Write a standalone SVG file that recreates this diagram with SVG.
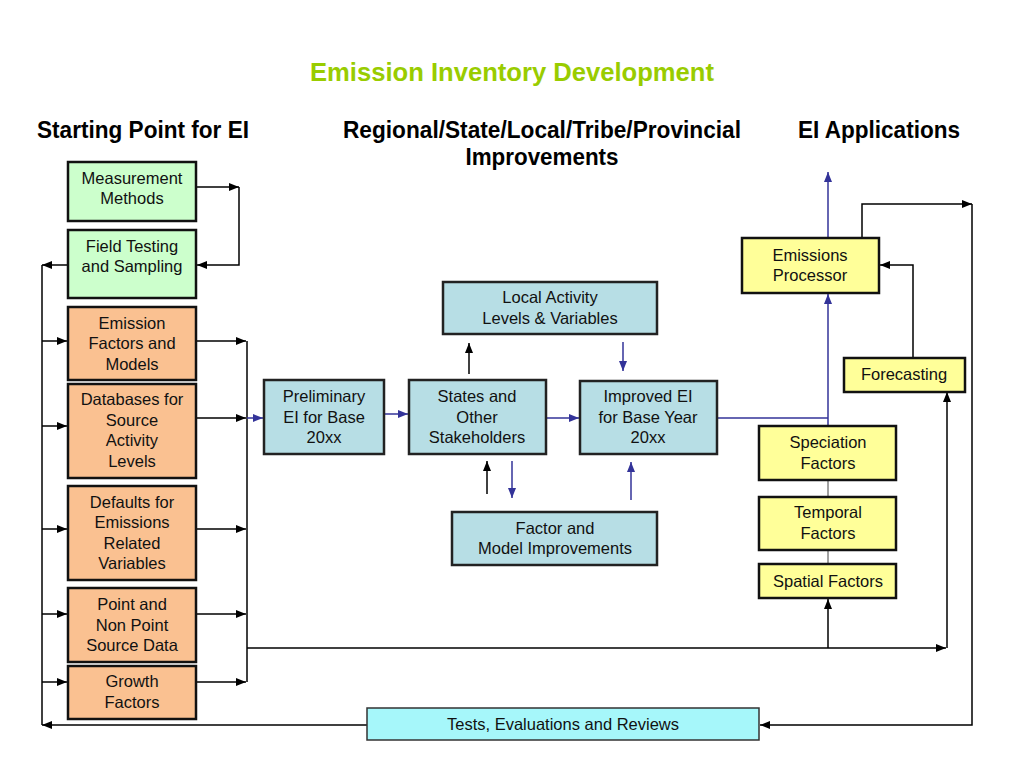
<svg xmlns="http://www.w3.org/2000/svg" width="1024" height="768" viewBox="0 0 1024 768">
<defs>
<marker id="ab" markerWidth="10" markerHeight="8" refX="10" refY="4" orient="auto" markerUnits="userSpaceOnUse"><path d="M0,0 L10,4 L0,8 Z" fill="#000"/></marker>
<marker id="au" markerWidth="10" markerHeight="8" refX="10" refY="4" orient="auto" markerUnits="userSpaceOnUse"><path d="M0,0 L10,4 L0,8 Z" fill="#333399"/></marker>
<style>
.t{font-family:"Liberation Sans",Arial,sans-serif;font-size:16.5px;fill:#111;text-anchor:middle}
.h{font-family:"Liberation Sans",Arial,sans-serif;font-weight:bold;font-size:23px;fill:#000;text-anchor:middle}
.g{fill:#ccffcc;stroke:#111;stroke-width:2.5}
.o{fill:#fac191;stroke:#111;stroke-width:2.5}
.b{fill:#b7dee5;stroke:#222;stroke-width:2.5}
.y{fill:#ffff99;stroke:#111;stroke-width:2.5}
.c{fill:#a6f7fa;stroke:#333;stroke-width:1.5}
.k{fill:none;stroke:#000;stroke-width:1.5}
.u{fill:none;stroke:#333399;stroke-width:1.5}
.n{fill:none;stroke:#444;stroke-width:1}
</style>
</defs>
<rect width="1024" height="768" fill="#fff"/>
<text x="512" y="81" class="h" style="fill:#99cc00;font-size:25px" textLength="404" lengthAdjust="spacingAndGlyphs">Emission Inventory Development</text>
<text x="143" y="138" class="h" textLength="212" lengthAdjust="spacingAndGlyphs">Starting Point for EI</text>
<text x="542" y="138" class="h" textLength="398" lengthAdjust="spacingAndGlyphs">Regional/State/Local/Tribe/Provincial</text>
<text x="542" y="165" class="h" textLength="153" lengthAdjust="spacingAndGlyphs">Improvements</text>
<text x="879" y="138" class="h" textLength="162" lengthAdjust="spacingAndGlyphs">EI Applications</text>

<g id="connectors">
<path class="k" d="M196,187 H239" marker-end="url(#ab)"/>
<path class="k" d="M239,187 V265 H197" marker-end="url(#ab)"/>
<path class="k" d="M68,265 H42" marker-end="url(#ab)"/>
<path class="k" d="M42,265 V725"/>
<path class="k" d="M42,341 H67" marker-end="url(#ab)"/>
<path class="k" d="M42,426 H67" marker-end="url(#ab)"/>
<path class="k" d="M42,529 H67" marker-end="url(#ab)"/>
<path class="k" d="M42,614 H67" marker-end="url(#ab)"/>
<path class="k" d="M42,682 H67" marker-end="url(#ab)"/>
<path class="k" d="M196,341 H246" marker-end="url(#ab)"/>
<path class="k" d="M196,418 H246" marker-end="url(#ab)"/>
<path class="k" d="M196,529 H246" marker-end="url(#ab)"/>
<path class="k" d="M196,614 H246" marker-end="url(#ab)"/>
<path class="k" d="M196,682 H246" marker-end="url(#ab)"/>
<path class="k" d="M247,341 V682"/>
<path class="u" d="M247,418 H263" marker-end="url(#au)"/>
<path class="k" d="M247,648 H946" marker-end="url(#ab)"/>
<path class="k" d="M947,648 V392" marker-end="url(#ab)"/>
<path class="k" d="M828,648 V599" marker-end="url(#ab)"/>
<path class="u" d="M384,414 H408" marker-end="url(#au)"/>
<path class="u" d="M546,418 H579" marker-end="url(#au)"/>
<path class="k" d="M469,374 V343" marker-end="url(#ab)"/>
<path class="u" d="M623,342 V371" marker-end="url(#au)"/>
<path class="k" d="M487,494 V461" marker-end="url(#ab)"/>
<path class="u" d="M512,461 V498" marker-end="url(#au)"/>
<path class="u" d="M631,500 V462" marker-end="url(#au)"/>
<path class="u" d="M717,418 H828"/>
<path class="u" d="M828,426 V294" marker-end="url(#au)"/>
<path class="u" d="M828,238 V172" marker-end="url(#au)"/>
<path class="k" d="M862,238 V204 H972" marker-end="url(#ab)"/>
<path class="k" d="M972,204 V725 H760" marker-end="url(#ab)"/>
<path class="k" d="M367,725 H42" marker-end="url(#ab)"/>
<path class="k" d="M913,358 V265 H880" marker-end="url(#ab)"/>
<path class="n" d="M828,480 V497 M828,550 V564"/>
</g>

<g id="measurement"><rect class="g" x="68" y="162" width="128" height="59"/><text class="t" x="132" y="184">Measurement</text><text class="t" x="132" y="204">Methods</text></g>
<g id="field"><rect class="g" x="68" y="230" width="128" height="68"/><text class="t" x="132" y="252">Field Testing</text><text class="t" x="132" y="272">and Sampling</text></g>
<g id="efactors"><rect class="o" x="68" y="307" width="128" height="73"/><text class="t" x="132" y="329">Emission</text><text class="t" x="132" y="349">Factors and</text><text class="t" x="132" y="370">Models</text></g>
<g id="databases"><rect class="o" x="68" y="384" width="128" height="94"/><text class="t" x="132" y="405">Databases for</text><text class="t" x="132" y="426">Source</text><text class="t" x="132" y="446">Activity</text><text class="t" x="132" y="467">Levels</text></g>
<g id="defaults"><rect class="o" x="68" y="486" width="128" height="94"/><text class="t" x="132" y="508">Defaults for</text><text class="t" x="132" y="528">Emissions</text><text class="t" x="132" y="549">Related</text><text class="t" x="132" y="569">Variables</text></g>
<g id="point"><rect class="o" x="68" y="588" width="128" height="74"/><text class="t" x="132" y="610">Point and</text><text class="t" x="132" y="631">Non Point</text><text class="t" x="132" y="651">Source Data</text></g>
<g id="growth"><rect class="o" x="68" y="666" width="128" height="53"/><text class="t" x="132" y="687">Growth</text><text class="t" x="132" y="708">Factors</text></g>

<g id="local"><rect class="b" x="443" y="282" width="214" height="52"/><text class="t" x="550" y="303">Local Activity</text><text class="t" x="550" y="324">Levels &amp; Variables</text></g>
<g id="prelim"><rect class="b" x="264" y="380" width="120" height="74"/><text class="t" x="324" y="402">Preliminary</text><text class="t" x="324" y="423">EI for Base</text><text class="t" x="324" y="443">20xx</text></g>
<g id="states"><rect class="b" x="409" y="380" width="137" height="74"/><text class="t" x="477" y="402">States and</text><text class="t" x="477" y="423">Other</text><text class="t" x="477" y="443">Stakeholders</text></g>
<g id="improved"><rect class="b" x="580" y="381" width="137" height="73"/><text class="t" x="648" y="402">Improved EI</text><text class="t" x="648" y="423">for Base Year</text><text class="t" x="648" y="443">20xx</text></g>
<g id="factormodel"><rect class="b" x="452" y="512" width="205" height="53"/><text class="t" x="555" y="534">Factor and</text><text class="t" x="555" y="554">Model Improvements</text></g>

<g id="processor"><rect class="y" x="742" y="238" width="137" height="55"/><text class="t" x="810" y="261">Emissions</text><text class="t" x="810" y="281">Processor</text></g>
<g id="forecasting"><rect class="y" x="844" y="358" width="121" height="34"/><text class="t" x="904" y="380">Forecasting</text></g>
<g id="speciation"><rect class="y" x="759" y="426" width="137" height="54"/><text class="t" x="828" y="448">Speciation</text><text class="t" x="828" y="469">Factors</text></g>
<g id="temporal"><rect class="y" x="759" y="497" width="137" height="53"/><text class="t" x="828" y="518">Temporal</text><text class="t" x="828" y="539">Factors</text></g>
<g id="spatial"><rect class="y" x="759" y="564" width="137" height="34"/><text class="t" x="828" y="587">Spatial Factors</text></g>
<g id="tests"><rect class="c" x="367" y="708" width="392" height="32"/><text class="t" x="563" y="730">Tests, Evaluations and Reviews</text></g>
</svg>
